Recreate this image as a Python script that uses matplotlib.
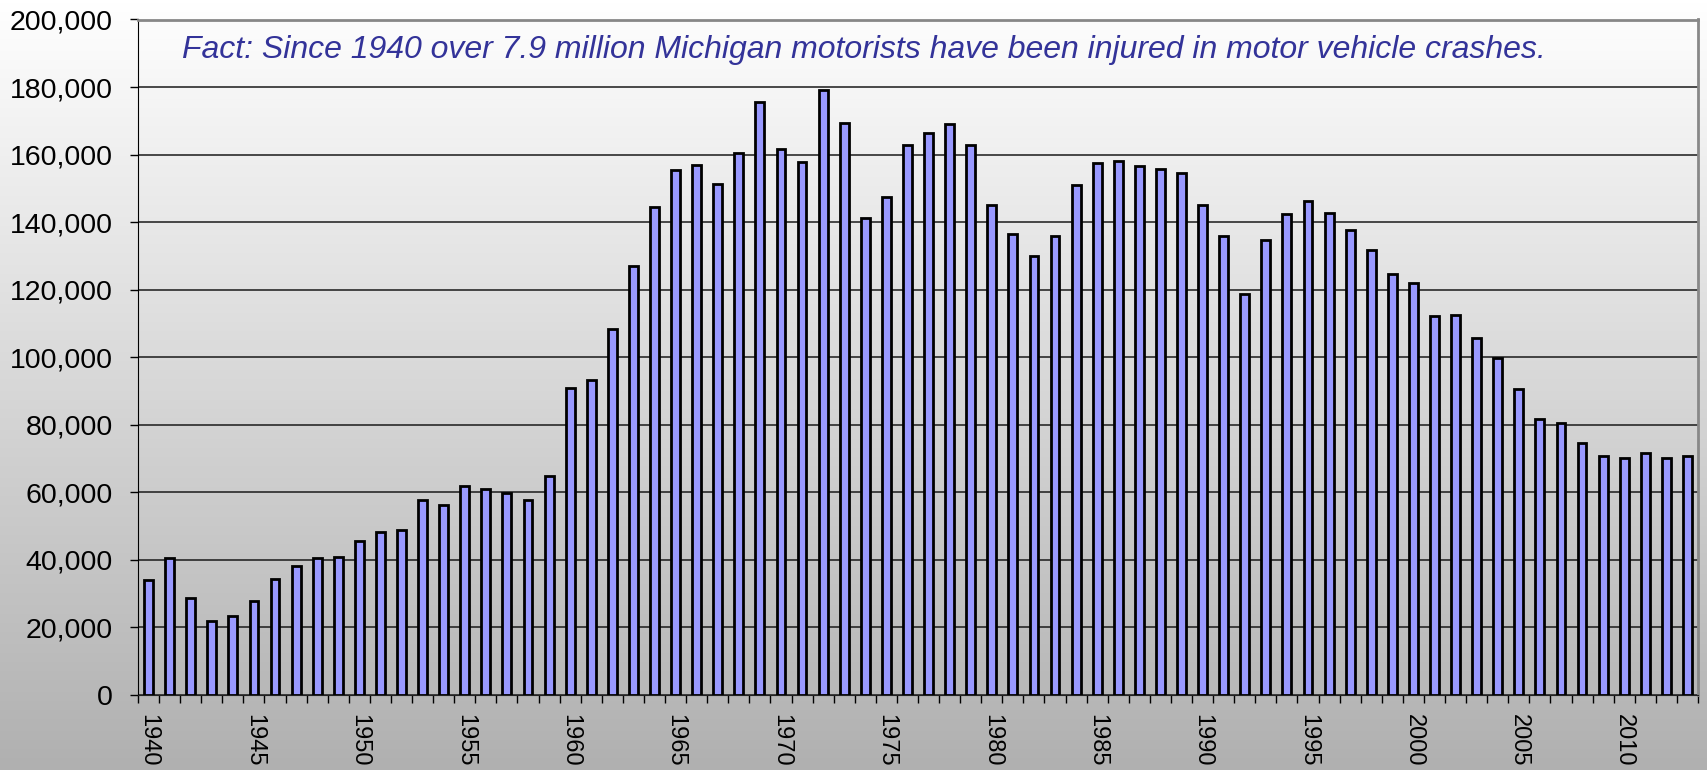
import numpy as np
import matplotlib
matplotlib.use("Agg")
import matplotlib.pyplot as plt
from matplotlib.colors import LinearSegmentedColormap
from matplotlib.ticker import FuncFormatter, FixedLocator

plt.rcParams['font.family'] = ['Liberation Sans', 'DejaVu Sans']

# datos
years = list(range(1940, 2014))
injuries = [34100, 40500, 28700, 21900, 23300, 27800, 34400, 38100, 40700, 41000,
            45500, 48300, 48900, 57800, 56300, 62000, 61000, 59900, 57600, 64700,
            91000, 93400, 108300, 127000, 144600, 155400, 156900, 151400, 160500, 175500,
            161800, 157800, 179000, 169500, 141300, 147300, 162900, 166500, 169200, 162700,
            145000, 136400, 130100, 135900, 150900, 157500, 158100, 156500, 155700, 154600,
            145200, 136000, 118800, 134700, 142300, 146300, 142800, 137600, 131700, 124700,
            121900, 112300, 112500, 105600, 99700, 90600, 81800, 80500, 74500, 70700,
            70300, 71700, 70300, 70800]
label_years = [1940, 1945, 1950, 1955, 1960, 1965, 1970, 1975, 1980, 1985, 1990, 1995, 2000, 2005, 2010]
titulo = "Fact: Since 1940 over 7.9 million Michigan motorists have been injured in motor vehicle crashes."

W, H = 1707, 770
fig = plt.figure(figsize=(W / 100, H / 100), dpi=100)

# fondo degradado
bg = fig.add_axes([0, 0, 1, 1], zorder=-10)
cmap = LinearSegmentedColormap.from_list("fondo", ["#ffffff", "#b0b0b0"])
bg.imshow(np.linspace(0, 1, 256)[:, None], aspect="auto", cmap=cmap, extent=[0, 1, 0, 1])
bg.axis("off")

left, right, top, bottom = 138, 1698, 19.5, 695
ax = fig.add_axes([left / W, 1 - bottom / H, (right - left) / W, (bottom - top) / H])
ax.patch.set_alpha(0)

x = np.arange(len(years))
ax.bar(x, injuries, width=0.42, color="#9999ff", edgecolor="black", linewidth=2.0, zorder=3)

ax.set_xlim(-0.5, len(years) - 0.5)
ax.set_ylim(0, 200000)
ax.set_yticks(range(0, 200001, 20000))
ax.yaxis.set_major_formatter(FuncFormatter(lambda v, p: f"{int(v):,}"))
ax.yaxis.grid(True, color="#1a1a1a", linewidth=1.1, zorder=1)
ax.set_axisbelow(True)
ax.tick_params(axis="y", length=6, width=1, direction="out", pad=12, labelsize=20.5, colors="black")

pos = [years.index(y) for y in label_years]
ax.xaxis.set_major_locator(FixedLocator(pos))
ax.set_xticklabels([str(y) for y in label_years], rotation=-90, ha="center", va="top")
ax.xaxis.set_minor_locator(FixedLocator(np.arange(-0.5, len(years), 1.0)))
ax.tick_params(axis="x", which="major", length=0, pad=14, labelsize=17)
ax.tick_params(axis="x", which="minor", length=5.5, width=1, direction="out")

ax.spines["left"].set_color("black")
ax.spines["bottom"].set_color("#222222")
ax.spines["top"].set_color("#888888")
ax.spines["right"].set_color("#888888")
ax.spines["top"].set_linewidth(2)
ax.spines["right"].set_linewidth(2)

fig.text(182 / W, 1 - 50 / H, titulo, fontsize=23, style="italic",
         color="#333399", ha="left", va="center")

fig.savefig("out.png", dpi=100)
